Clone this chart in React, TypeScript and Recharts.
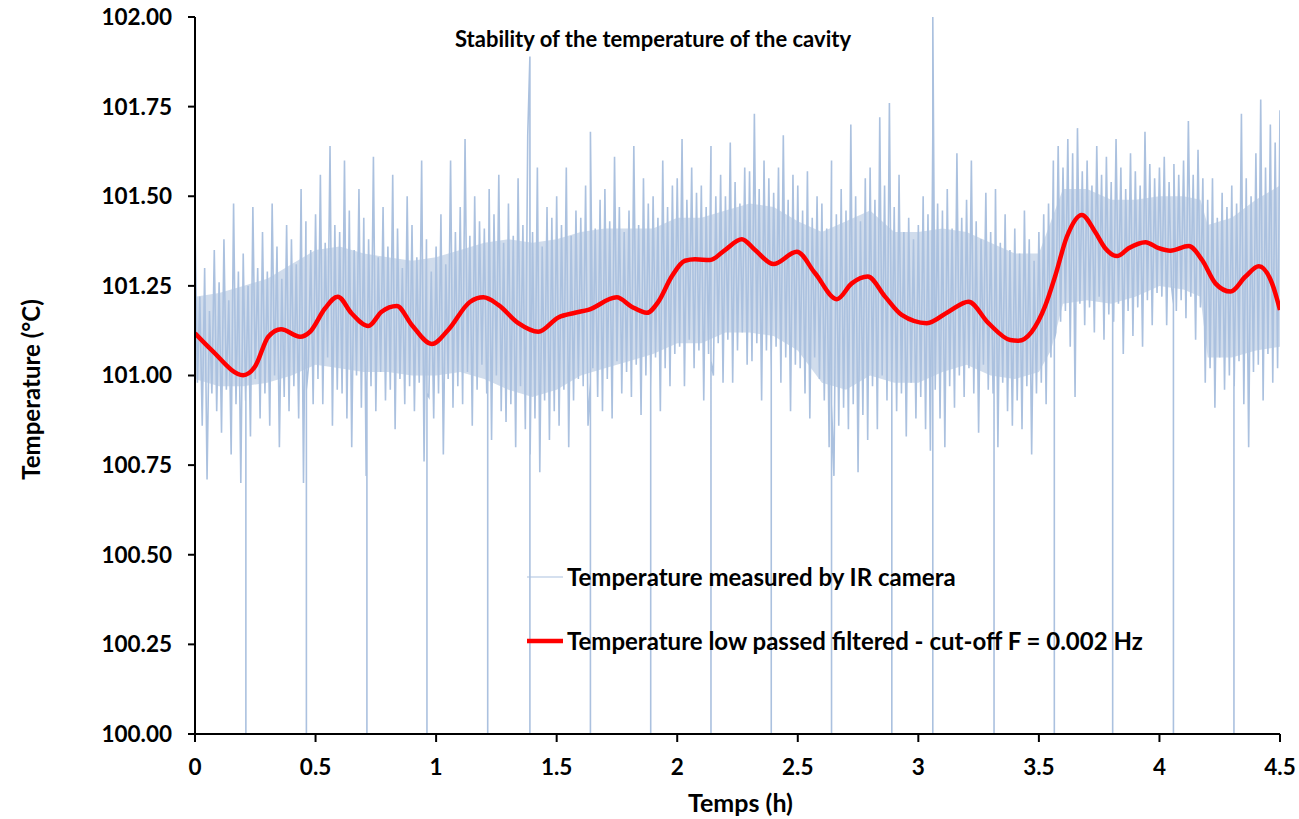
import React from 'react';
import { ComposedChart, Line, Area, XAxis, YAxis, Legend } from 'recharts';

const FONT = 'Lato, "Noto Sans", "DejaVu Sans", sans-serif';

// Axis ticks
const xTicks = [0, 0.5, 1, 1.5, 2, 2.5, 3, 3.5, 4, 4.5];
const yTicks = [100, 100.25, 100.5, 100.75, 101, 101.25, 101.5, 101.75, 102];

// Series names / styles (shared by the lines and the legend)
const measuredName = 'Temperature measured by IR camera';
const filteredName = 'Temperature low passed filtered - cut-off F = 0.002 Hz';
const legendOrder = [measuredName, filteredName];
const measuredColor = '#abc1df';
const filteredColor = '#ff0000';
const seriesWidths: Record<string, number> = { [measuredName]: 1, [filteredName]: 4.5 };

// IR camera temperature (°C), one sample every 0.01 h from 0 to 4.5 h
const sampleStep = 0.01;
const measuredValues = [
  101.43, 100.98, 101.22, 100.86, 101.30, 100.71, 101.18, 100.95, 101.35, 100.90,
  101.26, 100.84, 101.38, 100.96, 101.21, 100.78, 101.48, 100.92, 101.29, 100.70,
  101.34, 100.93, 101.25, 100.83, 101.47, 100.99, 101.30, 100.88, 101.40, 100.95,
  101.29, 100.86, 101.48, 101.00, 101.36, 100.80, 101.27, 100.94, 101.42, 100.90,
  101.38, 100.97, 101.31, 100.88, 101.52, 100.70, 101.43, 101.02, 101.35, 100.92,
  101.45, 100.99, 101.56, 100.92, 101.37, 101.05, 101.64, 100.86, 101.42, 100.96,
  101.40, 100.95, 101.60, 100.88, 101.46, 100.80, 101.35, 101.00, 101.52, 100.91,
  101.44, 100.72, 101.38, 100.97, 101.61, 100.90, 101.33, 101.01, 101.47, 100.93,
  101.36, 100.96, 101.56, 100.85, 101.41, 100.99, 101.30, 100.92, 101.50, 100.97,
  101.42, 100.90, 101.33, 100.98, 101.60, 100.76, 101.38, 100.94, 101.29, 100.88,
  101.36, 100.95, 101.45, 100.78, 101.31, 100.99, 101.60, 100.91, 101.40, 100.97,
  101.47, 100.92, 101.66, 101.01, 101.39, 100.86, 101.50, 100.96, 101.43, 101.03,
  101.41, 100.95, 101.52, 100.82, 101.45, 101.00, 101.56, 100.90, 101.37, 100.87,
  101.48, 100.92, 101.39, 100.80, 101.55, 100.97, 101.42, 100.85, 101.67, 100.78,
  101.40, 100.88, 101.58, 100.73, 101.36, 100.93, 101.47, 100.82, 101.44, 100.90,
  101.50, 100.86, 101.42, 100.96, 101.58, 100.80, 101.39, 100.93, 101.46, 100.99,
  101.44, 100.97, 101.53, 100.86, 101.68, 101.02, 101.41, 100.94, 101.49, 100.90,
  101.52, 100.99, 101.43, 100.88, 101.61, 101.04, 101.47, 100.95, 101.40, 101.01,
  101.46, 100.94, 101.64, 101.03, 101.42, 100.89, 101.55, 101.00, 101.48, 100.96,
  101.50, 101.05, 101.44, 100.90, 101.60, 101.02, 101.47, 100.97, 101.53, 101.06,
  101.55, 101.08, 101.66, 100.97, 101.49, 101.10, 101.58, 101.02, 101.51, 101.07,
  101.53, 100.93, 101.47, 101.06, 101.64, 101.00, 101.50, 101.09, 101.56, 100.98,
  101.50, 101.10, 101.65, 100.98, 101.54, 101.07, 101.48, 101.12, 101.58, 101.03,
  101.57, 101.04, 101.73, 101.09, 101.52, 100.93, 101.60, 101.07, 101.55, 101.01,
  101.51, 101.08, 101.58, 100.98, 101.67, 101.05, 101.49, 100.90, 101.56, 101.03,
  101.53, 101.02, 101.46, 100.95, 101.57, 100.88, 101.44, 101.05, 101.50, 100.99,
  101.48, 100.93, 101.41, 100.80, 101.60, 100.72, 101.45, 100.86, 101.52, 100.91,
  101.46, 100.85, 101.70, 100.92, 101.50, 100.73, 101.43, 100.89, 101.55, 100.82,
  101.58, 100.97, 101.49, 100.85, 101.72, 101.00, 101.53, 100.93, 101.76, 100.96,
  101.47, 100.90, 101.56, 100.95, 101.40, 100.83, 101.44, 100.98, 101.38, 100.88,
  101.42, 100.94, 101.50, 100.85, 101.45, 100.79, 101.67, 100.96, 101.48, 100.88,
  101.46, 100.80, 101.52, 100.97, 101.41, 100.91, 101.62, 101.00, 101.44, 100.94,
  101.49, 101.02, 101.60, 100.95, 101.43, 100.84, 101.38, 101.03, 101.51, 100.96,
  101.40, 100.95, 101.52, 100.80, 101.37, 100.98, 101.45, 100.90, 101.35, 100.86,
  101.41, 100.93, 101.34, 100.85, 101.46, 100.97, 101.38, 100.78, 101.32, 100.95,
  101.40, 100.98, 101.45, 100.92, 101.48, 101.05, 101.60, 101.12, 101.64, 101.15,
  101.58, 101.18, 101.66, 101.08, 101.62, 100.94, 101.69, 101.20, 101.57, 101.14,
  101.60, 101.19, 101.53, 101.12, 101.64, 101.22, 101.56, 101.10, 101.61, 101.17,
  101.54, 101.15, 101.66, 101.20, 101.58, 101.06, 101.52, 101.18, 101.62, 101.11,
  101.57, 101.19, 101.53, 101.08, 101.68, 101.21, 101.59, 101.14, 101.55, 101.23,
  101.58, 101.22, 101.61, 101.14, 101.54, 101.25, 101.59, 101.18, 101.56, 101.21,
  101.60, 101.16, 101.71, 101.22, 101.56, 101.10, 101.63, 101.19, 101.55, 100.98,
  101.49, 101.02, 101.55, 100.91, 101.44, 101.05, 101.51, 100.96, 101.47, 101.00,
  101.53, 100.97, 101.48, 101.04, 101.73, 100.92, 101.55, 100.80, 101.50, 101.01,
  101.62, 101.03, 101.77, 100.93, 101.58, 101.06, 101.70, 100.98, 101.65, 101.02,
  101.74,
];

// Camera drop-outs: the reading collapses to the floor for a single frame
const dropoutTimes = [
  0.211, 0.462, 0.713, 0.962, 1.214, 1.389, 1.64, 1.89, 2.14,
  2.39, 2.64, 2.89, 3.06, 3.314, 3.564, 3.806, 4.058, 4.309,
];
const dropoutTops = [
  100.95, 100.96, 100.98, 100.95, 100.96, 101.89, 100.98, 101.0, 101.04,
  101.06, 100.92, 100.98, 102.0, 100.96, 101.1, 101.16, 101.2, 101.02,
];
const dropoutFloor = 100.0;

// Dense core of the camera readings (most frames fall inside it)
const bandTimes = [
  0, 0.1, 0.2, 0.3, 0.4, 0.5, 0.6, 0.7, 0.8, 0.9,
  1.0, 1.1, 1.2, 1.3, 1.4, 1.5, 1.6, 1.7, 1.8, 1.9,
  2.0, 2.1, 2.2, 2.3, 2.4, 2.5, 2.6, 2.7, 2.8, 2.9,
  3.0, 3.1, 3.2, 3.3, 3.4, 3.5, 3.55, 3.6, 3.7, 3.8, 3.9,
  4.0, 4.1, 4.17, 4.2, 4.3, 4.4, 4.5,
];
const bandUpper = [
  101.22, 101.23, 101.25, 101.27, 101.31, 101.35, 101.36, 101.34, 101.33, 101.32,
  101.33, 101.35, 101.37, 101.38, 101.37, 101.38, 101.40, 101.41, 101.41, 101.41,
  101.44, 101.44, 101.46, 101.48, 101.47, 101.43, 101.40, 101.43, 101.46, 101.40,
  101.40, 101.41, 101.40, 101.37, 101.34, 101.34, 101.43, 101.52, 101.52, 101.49, 101.49,
  101.50, 101.50, 101.49, 101.42, 101.44, 101.49, 101.53,
];
const bandLower = [
  100.99, 100.97, 100.97, 100.98, 101.00, 101.03, 101.02, 101.01, 101.01, 101.00,
  101.00, 101.01, 100.99, 100.96, 100.94, 100.96, 101.00, 101.02, 101.04, 101.06,
  101.09, 101.09, 101.12, 101.12, 101.11, 101.07, 100.98, 100.96, 101.00, 100.98,
  100.98, 101.01, 101.03, 101.00, 100.99, 101.01, 101.07, 101.20, 101.21, 101.20, 101.22,
  101.25, 101.24, 101.22, 101.05, 101.05, 101.07, 101.08,
];

// Low-pass filtered temperature (cut-off 0.002 Hz)
const filteredTimes = [
  0, 0.069, 0.2, 0.249, 0.304, 0.357, 0.436, 0.477, 0.539, 0.592,
  0.65, 0.719, 0.774, 0.837, 0.899, 0.982, 1.05, 1.14, 1.196, 1.258,
  1.341, 1.424, 1.507, 1.576, 1.631, 1.749, 1.811, 1.874, 1.922, 1.977,
  2.032, 2.074, 2.136, 2.198, 2.268, 2.323, 2.399, 2.496, 2.572, 2.662,
  2.724, 2.79, 2.862, 2.931, 3.035, 3.125, 3.208, 3.291, 3.381, 3.415,
  3.47, 3.525, 3.567, 3.616, 3.678, 3.733, 3.775, 3.824, 3.872, 3.942,
  3.997, 4.045, 4.121, 4.177, 4.232, 4.295, 4.357, 4.412, 4.467, 4.5,
];
const filteredValues = [
  101.118, 101.071, 101.001, 101.025, 101.108, 101.129, 101.108, 101.122, 101.187, 101.22,
  101.173, 101.138, 101.178, 101.194, 101.141, 101.088, 101.127, 101.205, 101.218, 101.197,
  101.146, 101.122, 101.162, 101.175, 101.183, 101.218, 101.192, 101.175, 101.206, 101.276,
  101.32, 101.324, 101.322, 101.35, 101.38, 101.35, 101.311, 101.345, 101.285, 101.213,
  101.257, 101.276, 101.22, 101.169, 101.146, 101.178, 101.206, 101.146, 101.099, 101.097,
  101.122, 101.192, 101.276, 101.387, 101.448, 101.401, 101.355, 101.333, 101.355, 101.372,
  101.355, 101.348, 101.361, 101.322, 101.257, 101.234, 101.276, 101.305, 101.257, 101.183,
];

const measuredData = [
  ...measuredValues.map((v, i) => ({ t: i * sampleStep, v })),
  ...dropoutTimes.flatMap((t, k) => [
    { t, v: dropoutTops[k] },
    { t, v: dropoutFloor },
    { t, v: dropoutTops[k] },
  ]),
].sort((a, b) => a.t - b.t);

const bandData = bandTimes.map((t, i) => ({ t, range: [bandLower[i], bandUpper[i]] }));
const filteredData = filteredTimes.map((t, i) => ({ t, v: filteredValues[i] }));

const tickStyle = { fill: '#000', fontFamily: FONT, fontWeight: 700, fontSize: 22.5 };

const YTitle = (props: any) => {
  const vb = props.viewBox || {};
  const cx = vb.x + 30;
  const cy = vb.y + vb.height / 2 + 14;
  return (
    <text
      x={cx}
      y={cy}
      transform={`rotate(-90, ${cx}, ${cy})`}
      textAnchor="middle"
      dominantBaseline="central"
      fontFamily={FONT}
      fontWeight={700}
      fontSize={24}
      fill="#000"
    >
      Temperature (°C)
    </text>
  );
};

const XTitle = (props: any) => {
  const vb = props.viewBox || {};
  return (
    <text
      x={vb.x + vb.width / 2 + 3}
      y={vb.y + 78}
      textAnchor="middle"
      fontFamily={FONT}
      fontWeight={700}
      fontSize={25}
      fill="#000"
    >
      Temps (h)
    </text>
  );
};

const LegendBox = ({ payload }: any) => {
  const items = legendOrder
    .map((name) => (payload || []).find((p: any) => p.value === name))
    .filter(Boolean);
  return (
    <div
      style={{
        display: 'flex',
        flexDirection: 'column',
        gap: 34,
        fontFamily: FONT,
        fontWeight: 700,
        fontSize: 24,
        color: '#000',
      }}
    >
      {items.map((p: any) => (
        <div
          key={p.value}
          style={{ display: 'flex', alignItems: 'center', height: 30, whiteSpace: 'nowrap' }}
        >
          <svg width={40} height={30} style={{ display: 'block' }}>
            <line
              x1={0}
              x2={36}
              y1={15}
              y2={15}
              stroke={p.color}
              strokeWidth={seriesWidths[p.value] ?? 1}
            />
          </svg>
          <span style={{ lineHeight: '30px' }}>{p.value}</span>
        </div>
      ))}
    </div>
  );
};

export default function App() {
  return (
    <div style={{ position: 'absolute', left: 0, top: 0, width: 1299, height: 819, background: '#fff' }}>
      <ComposedChart
        width={1299}
        height={819}
        margin={{ top: 17, right: 19, bottom: 0, left: 0 }}
      >
        <XAxis
          dataKey="t"
          type="number"
          domain={[0, 4.5]}
          ticks={xTicks}
          allowDataOverflow
          axisLine={{ stroke: '#000', strokeWidth: 2 }}
          tickLine={{ stroke: '#000', strokeWidth: 2 }}
          tickSize={8}
          tickMargin={17}
          tick={tickStyle}
          height={85}
          label={<XTitle />}
        />
        <YAxis
          type="number"
          domain={[100, 102]}
          ticks={yTicks}
          allowDataOverflow
          tickFormatter={(v: number) => v.toFixed(2)}
          axisLine={{ stroke: '#000', strokeWidth: 2 }}
          tickLine={{ stroke: '#000', strokeWidth: 2 }}
          tickSize={7}
          tickMargin={16}
          tick={tickStyle}
          width={195}
          label={<YTitle />}
        />
        <Area
          data={bandData}
          dataKey="range"
          type="linear"
          stroke="none"
          fill="#b0c4e0"
          fillOpacity={0.6}
          legendType="none"
          isAnimationActive={false}
          dot={false}
          activeDot={false}
        />
        <Line
          data={measuredData}
          dataKey="v"
          name={measuredName}
          type="linear"
          stroke={measuredColor}
          strokeWidth={1.6}
          dot={false}
          activeDot={false}
          isAnimationActive={false}
        />
        <Line
          data={filteredData}
          dataKey="v"
          name={filteredName}
          type="monotone"
          stroke={filteredColor}
          strokeWidth={4.5}
          dot={false}
          activeDot={false}
          isAnimationActive={false}
        />
        <Legend
          layout="horizontal"
          verticalAlign="middle"
          align="center"
          content={<LegendBox />}
          wrapperStyle={{ left: 527, top: 562, width: 'auto', height: 'auto', bottom: 'auto', right: 'auto' }}
        />
        <text
          x={653}
          y={47}
          textAnchor="middle"
          fontFamily={FONT}
          fontWeight={700}
          fontSize={22}
          fill="#000"
        >
          Stability of the temperature of the cavity
        </text>
      </ComposedChart>
    </div>
  );
}
